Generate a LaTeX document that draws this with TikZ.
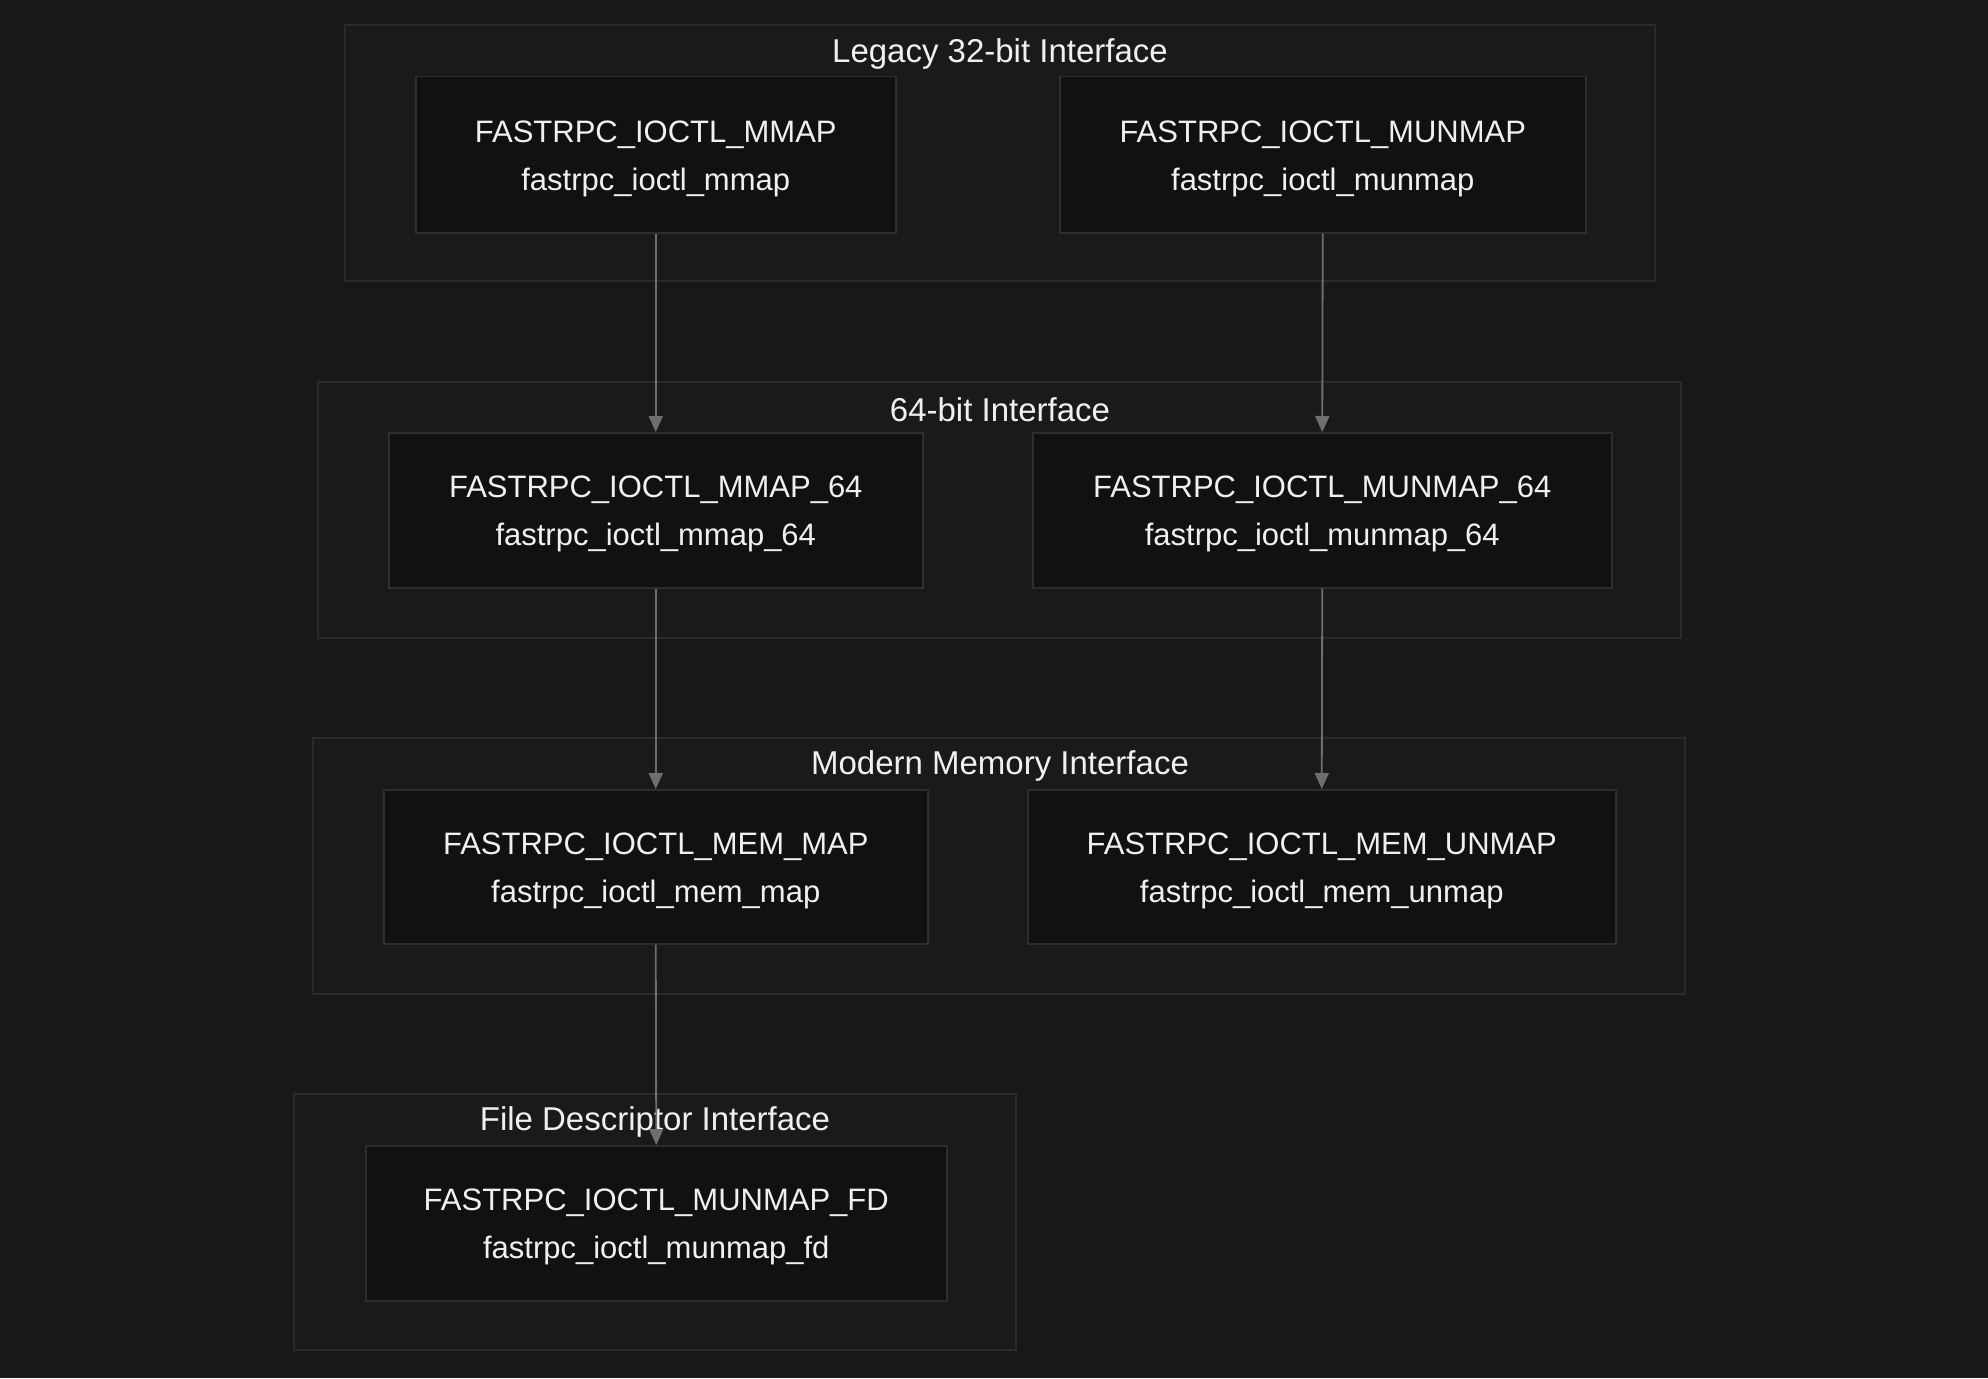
\documentclass[tikz,border=0pt]{standalone}
\usepackage{fontspec}
\setmainfont{Liberation Sans}
\usetikzlibrary{arrows.meta}
\definecolor{bgc}{HTML}{181818}
\definecolor{clfill}{HTML}{1A1A1A}
\definecolor{clline}{HTML}{2A2A2A}
\definecolor{ndfill}{HTML}{111111}
\definecolor{ndline}{HTML}{2E2E2E}
\definecolor{arr}{HTML}{6E6E6E}
\definecolor{txt}{HTML}{F0F0F0}
\tikzset{
  cluster/.style={draw=clline, fill=clfill, line width=1.5pt},
  boxnode/.style={draw=ndline, fill=ndfill, line width=1.5pt, inner sep=0pt, anchor=north west},
  lbl/.style={text=txt, font=\fontsize{31}{48}\selectfont, align=center},
  ttl/.style={text=txt, font=\fontsize{33}{38}\selectfont},
  conn/.style={draw=arr, line width=1.8pt, -{Triangle[length=16pt,width=14pt]}}
}
\begin{document}
\begin{tikzpicture}[x=1pt,y=-1pt]
\fill[bgc] (0,0) rectangle (1988,1378);
\useasboundingbox (0,0) rectangle (1988,1378);
% clusters
\draw[cluster] (345,25) rectangle (1655,281);
\node[ttl] (t1) at (1000,54) {Legacy 32-bit Interface};
\draw[cluster] (318,382) rectangle (1681,638);
\node[ttl] (t2) at (1000,410) {64-bit Interface};
\draw[cluster] (313,738) rectangle (1685,994);
\node[ttl] (t3) at (1000,766) {Modern Memory Interface};
\draw[cluster] (294,1094) rectangle (1016,1350);
\node[ttl] (t4) at (655,1122) {File Descriptor Interface};
% nodes
\node[boxnode, minimum width=480pt, minimum height=156pt] (a1) at (415,76) {};
\node[lbl] at ([yshift=-4pt]a1.center) {FASTRPC\_IOCTL\_MMAP\\fastrpc\_ioctl\_mmap};
\node[boxnode, minimum width=526pt, minimum height=156pt] (b1) at (1059,76) {};
\node[lbl] at ([yshift=-4pt]b1.center) {FASTRPC\_IOCTL\_MUNMAP\\fastrpc\_ioctl\_munmap};
\node[boxnode, minimum width=534pt, minimum height=155pt] (a2) at (388,432) {};
\node[lbl] at ([yshift=-4pt]a2.center) {FASTRPC\_IOCTL\_MMAP\_64\\fastrpc\_ioctl\_mmap\_64};
\node[boxnode, minimum width=579pt, minimum height=155pt] (b2) at (1032,432) {};
\node[lbl] at ([yshift=-4pt]b2.center) {FASTRPC\_IOCTL\_MUNMAP\_64\\fastrpc\_ioctl\_munmap\_64};
\node[boxnode, minimum width=544pt, minimum height=154pt] (a3) at (383,789) {};
\node[lbl] at ([yshift=-4pt]a3.center) {FASTRPC\_IOCTL\_MEM\_MAP\\fastrpc\_ioctl\_mem\_map};
\node[boxnode, minimum width=588pt, minimum height=154pt] (b3) at (1027,789) {};
\node[lbl] at ([yshift=-4pt]b3.center) {FASTRPC\_IOCTL\_MEM\_UNMAP\\fastrpc\_ioctl\_mem\_unmap};
\node[boxnode, minimum width=581pt, minimum height=155pt] (a4) at (365,1145) {};
\node[lbl] at ([yshift=-4pt]a4.center) {FASTRPC\_IOCTL\_MUNMAP\_FD\\fastrpc\_ioctl\_munmap\_fd};
% connectors
\draw[conn] (a1.south) -- (a2.north);
\draw[conn] (b1.south) -- (b2.north);
\draw[conn] (a2.south) -- (a3.north);
\draw[conn] (b2.south) -- (b3.north);
\draw[conn] (a3.south) -- (a4.north);
\end{tikzpicture}
\end{document}
